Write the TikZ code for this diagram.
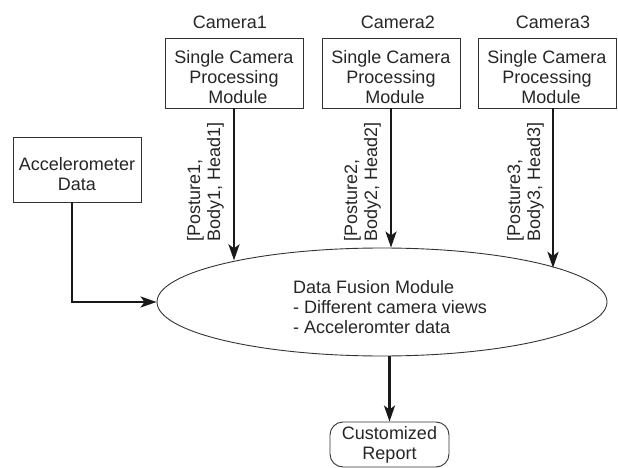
\documentclass[tikz,border=0pt]{standalone}
\usepackage{fontspec}
\setmainfont{Liberation Sans}
\usetikzlibrary{arrows.meta,shapes.geometric}
\begin{document}
\begin{tikzpicture}[x=1bp,y=-1bp,
  every node/.style={font=\fontsize{18bp}{20bp}\selectfont, text=black!85},
  procbox/.style={draw=black!80, line width=0.9bp, minimum width=138bp, minimum height=70bp, align=center, inner sep=2bp},
  flow/.style={line width=2.4bp, draw=black!90, -{Stealth[length=16bp,width=11bp,inset=4bp]}},
  lbl/.style={rotate=90, anchor=south west, align=left, inner sep=0pt}]
\useasboundingbox (0,0) rectangle (618,468);
% camera titles
\node (cam1t) at (230,22) {Camera1};
\node (cam2t) at (398,22) {Camera2};
\node (cam3t) at (553,22) {Camera3};
% processing boxes
\node[procbox] (cam1) at (234,73) {\rule{0pt}{21bp}Single Camera\\Processing\\\hspace*{8bp}Module};
\node[procbox] (cam2) at (391,73) {\rule{0pt}{21bp}Single Camera\\Processing\\\hspace*{8bp}Module};
\node[procbox] (cam3) at (547,73) {\rule{0pt}{21bp}Single Camera\\Processing\\\hspace*{8bp}Module};
% accelerometer
\node[procbox, minimum width=128bp, minimum height=65bp] (acc) at (77,169.5) {\rule{0pt}{22bp}Accelerometer\\Data};
% fusion ellipse
\node[draw=black!80, line width=0.9bp, ellipse, minimum width=450bp, minimum height=108bp, inner sep=0pt] (fusion) at (382,302) {};
\node[anchor=west, align=left, inner sep=0pt] (fustext) at (293,307) {Data Fusion Module\\- Different camera views\\- Acceleromter data};
% report
\node[draw=black!80, line width=0.9bp, rounded corners=13bp, minimum width=119bp, minimum height=45bp, align=center, inner sep=2bp] (rep) at (389.5,444.5) {Customized\\Report};
% rotated labels
\node[lbl] (l1) at (224,242) {[Posture1,\\Body1, Head1]};
\node[lbl] (l2) at (381,242) {[Posture2,\\Body2, Head2]};
\node[lbl] (l3) at (544,242) {[Posture3,\\Body3, Head3]};
% connectors
\draw[flow] (cam1.south) -- (cam1.south |- fusion.164.6);
\draw[flow] (cam2.south) -- (cam2.south |- fusion.north);
\coordinate (c3s) at ([xshift=6bp]cam3.south);
\draw[flow] (c3s) -- (c3s |- fusion.11.6);
\draw[flow] ([xshift=-5bp]acc.south) |- (fusion.west);
\draw[flow] (rep.north |- fusion.south) -- (rep.north);
\end{tikzpicture}
\end{document}
